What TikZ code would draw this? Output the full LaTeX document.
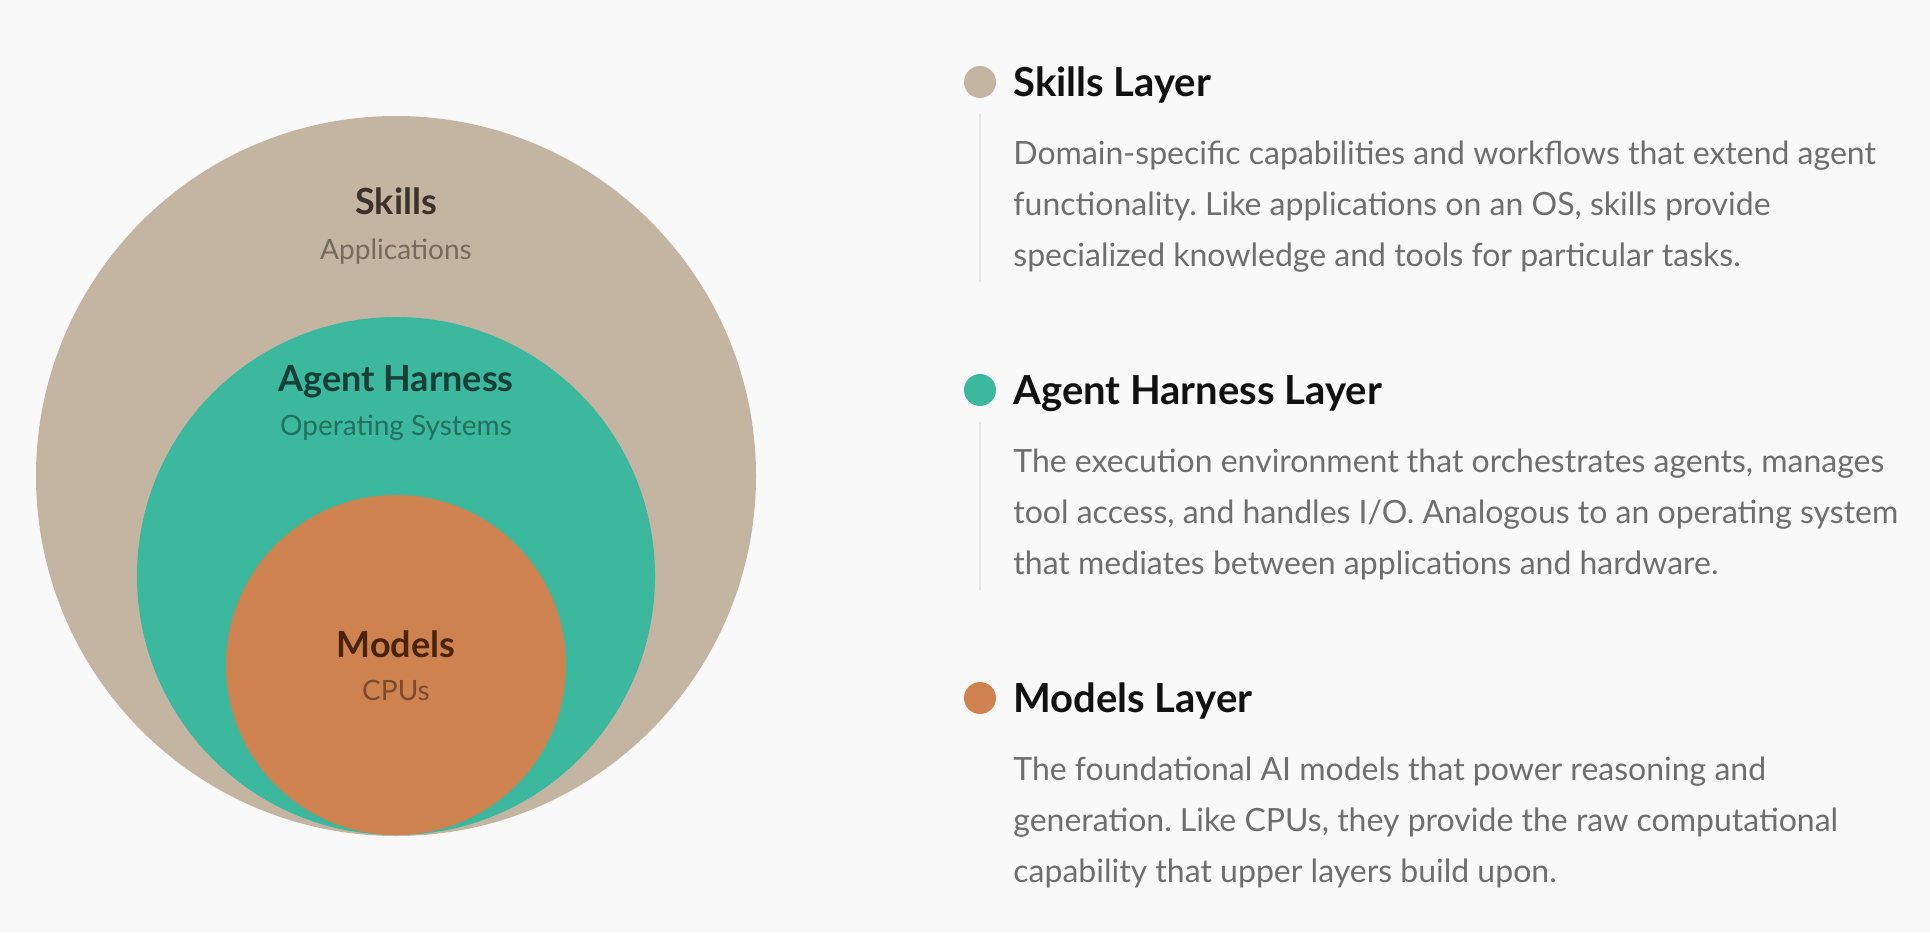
\documentclass[tikz,border=0pt]{standalone}
\usepackage{fontspec}
\setmainfont{Lato}
\frenchspacing
\definecolor{bgC}{HTML}{F9F9F9}
\definecolor{skillsC}{HTML}{C4B5A2}
\definecolor{agentC}{HTML}{3BB89E}
\definecolor{modelC}{HTML}{CE8250}
\definecolor{skillsT}{HTML}{3D3229}
\definecolor{skillsS}{HTML}{766A5C}
\definecolor{agentT}{HTML}{173F36}
\definecolor{agentS}{HTML}{23705F}
\definecolor{modelT}{HTML}{4A230D}
\definecolor{modelS}{HTML}{7C4A2C}
\definecolor{headT}{HTML}{111111}
\definecolor{descT}{HTML}{6E6E6E}
\definecolor{railC}{HTML}{E4E4E4}
\tikzset{
  ring/.style={circle, inner sep=0pt, draw=none},
  ctitle/.style={anchor=base, inner sep=0pt, font=\fontsize{18pt}{21pt}\selectfont\bfseries},
  csub/.style={anchor=base, inner sep=0pt, font=\fontsize{14pt}{17pt}\selectfont},
  dot/.style={circle, inner sep=0pt, minimum size=16pt, draw=none},
  head/.style={anchor=base west, inner sep=0pt, text=headT, font=\fontsize{20pt}{24pt}\selectfont\bfseries},
  desc/.style={anchor=base west, inner sep=0pt, text=descT, font=\fontsize{16pt}{25.6pt}\selectfont\frenchspacing},
  rail/.style={draw=railC, line width=1pt}
}
\begin{document}
\begin{tikzpicture}[x=0.5pt, y=-0.5pt]
\fill[bgC] (0,0) rectangle (1930,932);
\useasboundingbox (0,0) rectangle (1930,932);
% circles
\node[ring, fill=skillsC, minimum size=360pt] (skills) at (396,476) {};
\node[ring, fill=agentC, minimum size=259pt] (agent) at (396,576) {};
\node[ring, fill=modelC, minimum size=170pt] (models) at (396,665) {};
% circle labels
\node[ctitle, text=skillsT] (skillsT) at (396,214) {Skills};
\node[csub, text=skillsS] (skillsS) at (396,259.3) {Applications};
\node[ctitle, text=agentT] (agentT) at (396,391.7) {Agent Harness};
\node[csub, text=agentS] (agentS) at (396,435) {Operating Systems};
\node[ctitle, text=modelT] (modelT) at (396,657.3) {Models};
\node[csub, text=modelS] (modelS) at (396,700) {CPUs};
% legend: skills
\node[dot, fill=skillsC] (d1) at (980,82) {};
\node[head] (h1) at (1013,96.7) {Skills Layer};
\coordinate (r1a) at (980,114);
\coordinate (r1b) at (980,282);
\draw[rail] (r1a) -- (r1b);
\node[desc] (l11) at (1013,164.3) {Domain-specific capabilities and workflows that extend agent};
\node[desc] (l12) at (1013,215.5) {functionality. Like applications on an OS, skills provide};
\node[desc] (l13) at (1013,266.7) {specialized knowledge and tools for particular tasks.};
% legend: agent
\node[dot, fill=agentC] (d2) at (980,390) {};
\node[head] (h2) at (1013,404.7) {Agent Harness Layer};
\coordinate (r2a) at (980,422);
\coordinate (r2b) at (980,590);
\draw[rail] (r2a) -- (r2b);
\node[desc] (l21) at (1013,472.3) {The execution environment that orchestrates agents, manages};
\node[desc] (l22) at (1013,523.5) {tool access, and handles I/O. Analogous to an operating system};
\node[desc] (l23) at (1013,574.7) {that mediates between applications and hardware.};
% legend: models
\node[dot, fill=modelC] (d3) at (980,698) {};
\node[head] (h3) at (1013,712.7) {Models Layer};
\node[desc] (l31) at (1013,780.3) {The foundational AI models that power reasoning and};
\node[desc] (l32) at (1013,831.5) {generation. Like CPUs, they provide the raw computational};
\node[desc] (l33) at (1013,882.7) {capability that upper layers build upon.};
\end{tikzpicture}
\end{document}
